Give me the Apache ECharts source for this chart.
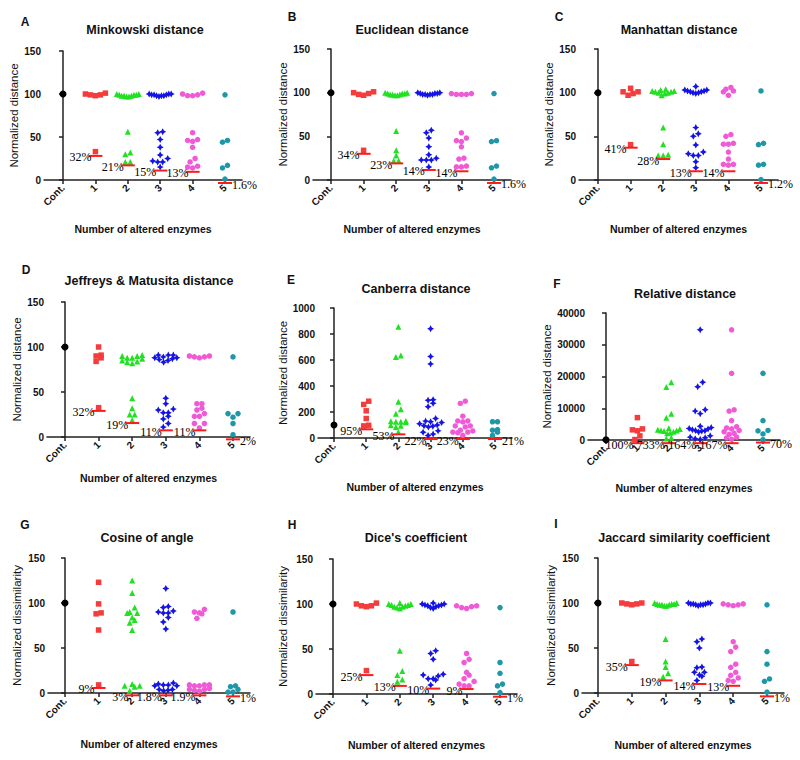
<!DOCTYPE html>
<html><head><meta charset="utf-8">
<script src="https://cdn.jsdelivr.net/npm/echarts@6/dist/echarts.min.js"></script>
<style>html,body{margin:0;padding:0;background:#fff}#c{width:800px;height:760px}</style>
</head><body><div id="c"></div>
<script>
// ---------- DATA ----------
const groupNames = ['Cont.', '1', '2', '3', '4', '5'];
const xAxisTitle = 'Number of altered enzymes';
const panelLetters = ['A','B','C','D','E','F','G','H','I'];
const panelTitles = ['Minkowski distance','Euclidean distance','Manhattan distance',
  'Jeffreys & Matusita distance','Canberra distance','Relative distance',
  'Cosine of angle',"Dice's coefficient",'Jaccard similarity coefficient'];
const yTitles = ['Normalized distance','Normalized distance','Normalized distance',
  'Normalized distance','Normalized distance','Normalized distance',
  'Normalized dissimilarity','Normalized dissimilarity','Normalized dissimilarity'];
const yMaxes = [150,150,150,150,1000,40000,150,150,150];
const yIntervals = [50,50,50,50,200,10000,50,50,50];

// Minkowski
const minkowskiVals = [[100],
  [98,99,99,100,101,33],
  [97,98,98,99,99,99,100,100,98,97,56,32,30,21,21],
  [97,98,98,99,99,100,100,100,99,98,56,55,47,38,29,25,22,21,21,15],
  [98,99,98,100,101,55,47,46,45,38,25,21,16,15,14],
  [99,46,44,17,14,1]];
const minkowskiLine = [28,17,11,9.5,-3.5];
const minkowskiPct = ['32%','21%','15%','13%','1.6%'];
// Euclidean
const euclideanVals = [[100],
  [101,99,97,98,100,34],
  [97,98,98,99,99,100,100,99,98,97,56,34,28,22,22],
  [97,98,98,99,99,100,100,99,98,98,57,54,48,38,29,25,23,23,23,15],
  [98,98,98,99,99,54,48,45,44,38,25,24,16,15,15],
  [99,45,44,16,14,1]];
const euclideanLine = [30,19,11.5,10,-3.4];
const euclideanPct = ['34%','23%','14%','14%','1.6%'];
// Manhattan
const manhattanVals = [[100],
  [101,105,99,97,101,40.5],
  [97,99,100,100,101,101,102,102,103,104,60,41,29,28,28],
  [99,100,100,101,101,102,102,103,103,107,60,53,50,40,32,30,28,28,21,14],
  [104,106,97,102,101,52,50,42,41,41,32,24,18,18,17],
  [102,42,40.5,18,17,0.5]];
const manhattanLine = [37,24,10,10,-3.4];
const manhattanPct = ['41%','28%','13%','14%','1.2%'];
// Jeffreys & Matusita
const jeffreysVals = [[100],
  [100,91,88,84,90,32.6],
  [91,90,90,88,87,85,83,82,84,88,43,32,25,25,19],
  [91,91,91,89,88,88,87,85,83,86,43,37,31,30,27,27,23,20,15,11],
  [90,89,88,89,90,37,37,32,30,26,23,23,15,15,10],
  [89,26,26,22,15,2.6]];
const jeffreysLine = [29,15.5,7.4,7.4,-2.6];
const jeffreysPct = ['32%','19%','11%','11%','2%'];
// Canberra
const canberraVals = [[100],
  [283,258,209,150,98,93],
  [856,634,624,278,222,186,130,128,125,125,122,98,95,85,46],
  [840,627,570,295,290,268,240,150,130,125,120,110,100,95,90,85,55,45,30,20],
  [283,266,168,131,131,124,93,93,85,60,54,46,46,41,20],
  [125,125,65,60,45,20]];
const canberraLine = [67,28,-8,-8,-8];
const canberraPct = ['95%','53%','22%','23%','21%'];
// Relative
const relativeVals = [[100],
  [7050,3500,3200,2900,1300,150],
  [18200,16700,8300,7000,3700,3500,3200,3000,3000,2800,2600,2300,2100,700,500],
  [34700,18200,16800,9500,9100,8300,4300,3900,3600,3500,3200,3000,2900,2800,2500,1300,900,700,400,200],
  [34700,21000,9500,9100,6100,4200,3800,3500,3000,2600,2100,1800,900,700,200],
  [21000,6100,3000,2900,1900,100]];
const relativeLine = [-1000,-1000,-1000,-1000,-800];
const relativePct = ['100%','733%','164%','167%','70%'];
// Cosine
const cosineVals = [[100],
  [123,99,89,88,70,9],
  [125,111,95,90,89,89,84,81,78,70,10,8,8,7,2.6],
  [116,96,95,91,90,89,89,84,79,71,11,10,9,9,8,8,4,4,3,2.6],
  [93,90,89,88,83,9,9,9,8,8,5,4,4,3,2],
  [90,8,7,4,1,1]];
const cosineLine = [5.6,-2.6,-2.6,-2.6,-3.7];
const cosinePct = ['9%','3%','1.8%','1.9%','1%'];
// Dice
const diceVals = [[100],
  [100,98,97,98,101,26],
  [95,96,97,98,99,99,100,100,101,97,48,25.5,21,16,13.7],
  [95,96,97,98,98,99,99,100,100,101,48,45,38.5,22,21,20,17,17,15.5,10],
  [98,97,95,96,98,45,38.5,35,24,21,17,14,11,9,9],
  [96,35,23,11,9,1.5]];
const diceLine = [21,9,6,5.5,-3];
const dicePct = ['25%','13%','10%','9%','1%'];
// Jaccard
const jaccardVals = [[100],
  [98,99,99,100,100,35],
  [97,97,98,98,99,99,99,100,100,98,60,35,29,22,18],
  [97,98,98,99,99,99,100,100,100,98,60,57,50,29,28,23,23,20,18.5,14],
  [99,98,97,98,99,57,51,46,32,28.5,23,19.6,16.7,14,13],
  [98,46,32,15.6,13,1]];
const jaccardLine = [31,14,10,8,-3.7];
const jaccardPct = ['35%','19%','14%','13%','1%'];

const allVals = [minkowskiVals,euclideanVals,manhattanVals,jeffreysVals,canberraVals,relativeVals,cosineVals,diceVals,jaccardVals];
const allLines = [minkowskiLine,euclideanLine,manhattanLine,jeffreysLine,canberraLine,relativeLine,cosineLine,diceLine,jaccardLine];
const allPcts = [minkowskiPct,euclideanPct,manhattanPct,jeffreysPct,canberraPct,relativePct,cosinePct,dicePct,jaccardPct];

// ---------- LAYOUT (pixels) ----------
const layouts = [
  {L:44, c0:63, c5:225, top:51, bot:180, yn:29, xn:43, letter:[25,22], title:[145,30]},
  {L:313,c0:331,c5:494, top:49, bot:180, yn:28, xn:43, letter:[292,17], title:[412,30]},
  {L:579,c0:598,c5:761, top:49, bot:180, yn:27, xn:43, letter:[559,17], title:[679,30]},
  {L:47, c0:65, c5:233, top:302,bot:437, yn:29, xn:35, letter:[26,270], title:[149,281]},
  {L:318,c0:334,c5:495, top:308,bot:438, yn:35, xn:43, letter:[291,280], title:[416,289]},
  {L:588,c0:606,c5:763, top:313,bot:440, yn:38, xn:42, letter:[557,284], title:[685,294]},
  {L:48, c0:65, c5:233, top:558,bot:693, yn:31, xn:45, letter:[25,525], title:[147,538]},
  {L:316,c0:333,c5:500, top:559,bot:694, yn:33, xn:45, letter:[292,525], title:[416,538]},
  {L:582,c0:598,c5:767, top:558,bot:693, yn:31, xn:46, letter:[556,524], title:[684,538]}
];
const colors = ['#000000','#f43c3c','#22e022','#1414e6','#f05ad6','#1e98a8'];
const star = 'path://M0,-10 L3.5,-3.5 L10,0 L3.5,3.5 L0,10 L-3.5,3.5 L-10,0 L-3.5,-3.5 Z';
const symbols = ['circle','rect','triangle',star,'circle','circle'];
const sizes = [7,5.5,6,7,5.5,5.5];

// Row-binned scatter spreading (like a column scatter plot): offsets in px -> axis units
function spread(vals, kx, ky, binH, step, maxW) {
  const order = vals.map((v,i)=>i).sort((a,b)=>vals[a]-vals[b]);
  const off = new Array(vals.length).fill(0);
  let k = 0;
  while (k < order.length) {
    const start = vals[order[k]]*ky;
    const row = [];
    while (k < order.length && vals[order[k]]*ky - start < binH) { row.push(order[k]); k++; }
    const n = row.length;
    const s = n > 1 ? Math.min(step, maxW/(n-1)) : 0;
    const slots = [];
    for (let j=0;j<n;j++) slots.push(j*s - (n-1)*s/2);
    slots.sort((a,b)=>Math.abs(a)-Math.abs(b) || a-b);
    row.forEach((idx,j)=>{ off[idx] = slots[j]/kx; });
  }
  return off;
}

const FONT = 'Liberation Sans, Arial, sans-serif';
const SERIF = 'Liberation Serif, Times New Roman, serif';
const grid=[], xAxis=[], yAxis=[], series=[], graphic=[];
layouts.forEach((lo,i)=>{
  const R = lo.c5 + 17;
  const u = (lo.c5 - lo.c0)/5;
  const xmin = -(lo.c0 - lo.L)/u, xmax = (R - lo.c0)/u;
  const ky = (lo.bot - lo.top)/yMaxes[i];
  grid.push({left:lo.L, top:lo.top, width:R-lo.L, height:lo.bot-lo.top});
  xAxis.push({type:'value', gridIndex:i, min:xmin, max:xmax,
    splitLine:{show:false},
    axisLine:{show:true, onZero:false, lineStyle:{color:'#222', width:1.5}},
    axisTick:{show:true, customValues:[0,1,2,3,4,5], length:4, lineStyle:{color:'#222', width:1.5}},
    axisLabel:{customValues:[0,1,2,3,4,5], formatter:v=>groupNames[Math.round(v)], rotate:45, margin:6,
      fontWeight:'bold', fontSize:10, color:'#111', fontFamily:FONT},
    name:xAxisTitle, nameLocation:'middle', nameGap:lo.xn,
    nameTextStyle:{fontWeight:'bold', fontSize:10.5, color:'#111', fontFamily:FONT}});
  yAxis.push({type:'value', gridIndex:i, min:0, max:yMaxes[i], interval:yIntervals[i],
    splitLine:{show:false},
    axisLine:{show:true, lineStyle:{color:'#222', width:1.5}},
    axisTick:{show:true, length:4, lineStyle:{color:'#222', width:1.5}},
    axisLabel:{formatter:v=>String(v), margin:3, fontWeight:'bold', fontSize:10, color:'#111', fontFamily:FONT},
    name:yTitles[i], nameLocation:'middle', nameRotate:90, nameGap:lo.yn-6,
    nameTextStyle:{fontSize:11.5, color:'#111', fontFamily:FONT}});
  allVals[i].forEach((vals,g)=>{
    const offs = spread(vals, u, ky, 5, 5, 22);
    series.push({type:'scatter', xAxisIndex:i, yAxisIndex:i, symbol:symbols[g], symbolSize:sizes[g],
      itemStyle:{color:colors[g], opacity:1}, clip:false, silent:true,
      data: vals.map((v,k)=>[g+offs[k], v])});
  });
  series.push({type:'scatter', xAxisIndex:i, yAxisIndex:i, symbol:'rect', symbolSize:[14,2], z:5,
    itemStyle:{color:'#ff1a1a', opacity:1}, clip:false, silent:true,
    label:{show:true, color:'#000', fontFamily:SERIF, fontSize:12, offset:[0,1.5], textBorderWidth:0},
    data: allLines[i].map((v,g)=>({value:[g+1, v],
      label:{show:true, color:'#000', textBorderWidth:0, fontFamily:SERIF, fontSize:12,
        formatter:allPcts[i][g], position: g<4?'left':'right', distance: g<4?-3:0}}))});
  graphic.push({type:'text', x:lo.letter[0], y:lo.letter[1],
    style:{text:panelLetters[i], align:'center', verticalAlign:'middle', font:'bold 12px '+FONT, fill:'#111'}});
  graphic.push({type:'text', x:lo.title[0], y:lo.title[1],
    style:{text:panelTitles[i], align:'center', verticalAlign:'middle', font:'bold 12.5px '+FONT, fill:'#111'}});
});

const chart = echarts.init(document.getElementById('c'), null, {renderer:'svg', width:800, height:760});
chart.setOption({animation:false, backgroundColor:'#fff', textStyle:{fontFamily:FONT},
  grid, xAxis, yAxis, series, graphic});
</script>
</body></html>
